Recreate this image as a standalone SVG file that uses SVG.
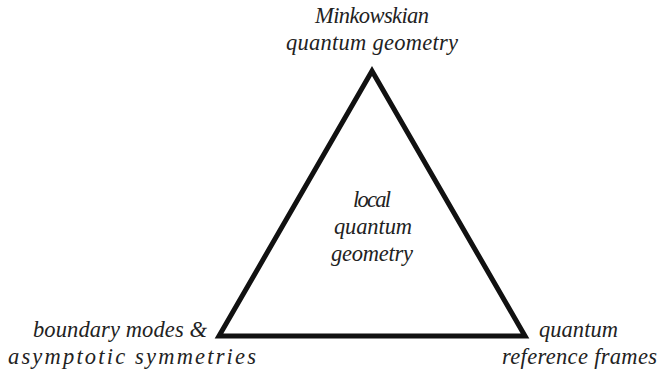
<svg xmlns="http://www.w3.org/2000/svg" width="669" height="371" viewBox="0 0 669 371">
<defs>
<style>
.lbl{font-size:22.5px;fill:#222}
</style>
</defs>
<rect width="669" height="371" fill="#fff"/>
<g id="connectors">
<polygon points="372,71 219,336 525,336" fill="none" stroke="#111" stroke-width="5" stroke-linejoin="miter"/>
</g>
<g id="node-top" text-anchor="middle">
<text class="lbl" font-family="Liberation Serif" font-style="italic" x="372" y="23" textLength="114" lengthAdjust="spacing">Minkowskian</text>
<text class="lbl" font-family="Liberation Serif" font-style="italic" x="372" y="50" textLength="172" lengthAdjust="spacing">quantum geometry</text>
</g>
<g id="node-center" text-anchor="middle">
<text class="lbl" font-family="Liberation Serif" font-style="italic" x="372" y="207" textLength="38" lengthAdjust="spacing">local</text>
<text class="lbl" font-family="Liberation Serif" font-style="italic" x="373" y="234" textLength="78" lengthAdjust="spacing">quantum</text>
<text class="lbl" font-family="Liberation Serif" font-style="italic" x="372" y="261" textLength="82" lengthAdjust="spacing">geometry</text>
</g>
<g id="node-left">
<text class="lbl" font-family="Liberation Serif" font-style="italic" x="33" y="337" textLength="174" lengthAdjust="spacing">boundary modes &amp;</text>
<text class="lbl" font-family="Liberation Serif" font-style="italic" x="8" y="364" textLength="248" lengthAdjust="spacing">asymptotic symmetries</text>
</g>
<g id="node-right">
<text class="lbl" font-family="Liberation Serif" font-style="italic" x="539" y="337" textLength="79" lengthAdjust="spacing">quantum</text>
<text class="lbl" font-family="Liberation Serif" font-style="italic" x="502" y="364" textLength="155" lengthAdjust="spacing">reference frames</text>
</g>
</svg>
